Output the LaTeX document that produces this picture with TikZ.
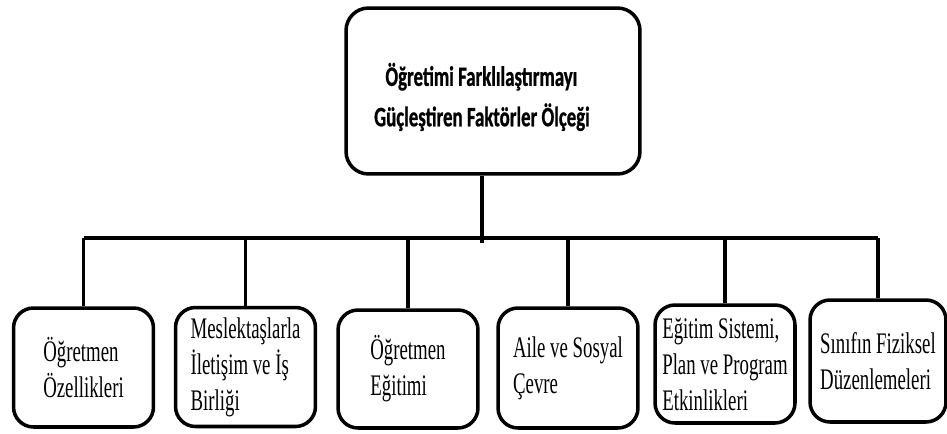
\documentclass[tikz,border=0pt]{standalone}
\usepackage{fontspec}
\usepackage{tikz}
\usetikzlibrary{positioning,calc}
\newfontfamily\boxfont{Liberation Serif}[FakeStretch=0.63]
\newfontfamily\titlefont{Carlito}[FakeStretch=0.67,FakeBold=0.8]
\definecolor{ink}{HTML}{000000}
\tikzset{
  topbox/.style={draw=ink,line width=2pt,rounded corners=0.45cm,
                 minimum width=5.88cm,minimum height=3.32cm},
  toptext/.style={align=left,inner sep=0pt,
                  font=\titlefont\bfseries\fontsize{16}{23}\selectfont},
  factor/.style={draw=ink,line width=2pt,rounded corners=0.4cm,
                 minimum width=2.8cm,minimum height=2.38cm,inner sep=2pt,
                 align=left,font=\boxfont\fontsize{17}{20.5}\selectfont},
  tree/.style={draw=ink,line width=1.9pt}
}
\begin{document}
\begin{tikzpicture}[x=0.02cm,y=-0.02cm]
  \useasboundingbox (0,0) rectangle (947,433);
  \node[topbox] (top) at (493,91) {};
  \node[toptext] (title) at (482,97) {\hspace*{0.4em}Öğretimi Farklılaştırmayı\\Güçleştiren Faktörler Ölçeği};
  \coordinate (trunk) at (482,238);
  \node[factor] (f1) at (83.5,367.5) {Öğretmen\\Özellikleri};
  \node[factor] (f2) at (245.5,367) {Meslektaşlarla\\İletişim ve İş\\Birliği};
  \node[factor,minimum height=2.36cm] (f3) at (408,369) {Öğretmen\\Eğitimi};
  \node[factor,minimum height=2.4cm] (f4) at (568,368) {Aile ve Sosyal\\Çevre};
  \node[factor,minimum height=2.36cm] (f5) at (725,364) {Eğitim Sistemi,\\Plan ve Program\\Etkinlikleri};
  \node[factor,minimum width=2.72cm,minimum height=2.44cm] (f6) at (878,361) {Sınıfın Fiziksel\\Düzenlemeleri};
  \draw[tree] (trunk |- top.south) -- ([yshift=-3pt]trunk);
  \draw[tree] (f1.north |- trunk) -- (f6.north |- trunk);
  \foreach \f in {f1,f2,f3,f4,f5,f6}
    \draw[tree] (\f.north) -- (\f.north |- trunk);
\end{tikzpicture}
\end{document}
